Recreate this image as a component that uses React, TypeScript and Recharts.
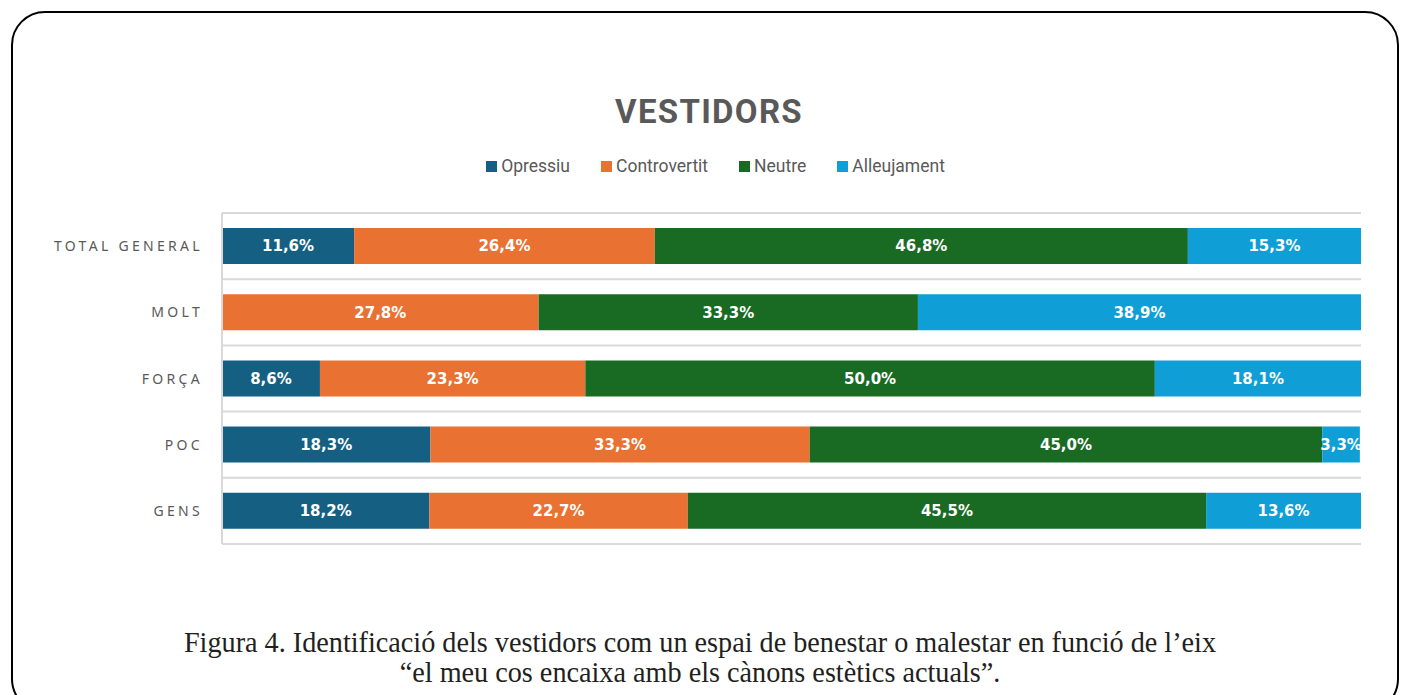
import { Bar, BarChart, CartesianGrid, LabelList, XAxis, YAxis } from "recharts";

const categories = ["TOTAL GENERAL", "MOLT", "FORÇA", "POC", "GENS"];
const opressiu = [11.6, 0.0, 8.6, 18.3, 18.2];
const controvertit = [26.4, 27.8, 23.3, 33.3, 22.7];
const neutre = [46.8, 33.3, 50.0, 45.0, 45.5];
const alleujament = [15.3, 38.9, 18.1, 3.3, 13.6];

const seriesInfo = [
  { key: "opressiu", name: "Opressiu", color: "#156082" },
  { key: "controvertit", name: "Controvertit", color: "#E97132" },
  { key: "neutre", name: "Neutre", color: "#196B24" },
  { key: "alleujament", name: "Alleujament", color: "#0F9ED5" },
];

const data = categories.map((cat, i) => ({
  cat,
  opressiu: opressiu[i],
  controvertit: controvertit[i],
  neutre: neutre[i],
  alleujament: alleujament[i],
}));

const fmt = (v: number) => v.toFixed(1).replace(".", ",") + "%";

function CategoryTick(props: any) {
  const { x, y, payload } = props;
  return (
    <text
      x={x}
      y={y}
      dy={5}
      textAnchor="end"
      fill="#595959"
      fontFamily="'Noto Sans', sans-serif"
      fontSize={14}
      letterSpacing={3.3}
    >
      {payload.value}
    </text>
  );
}

function LegendBox() {
  return (
    <div
      style={{
        position: "absolute",
        left: 0,
        top: 156,
        width: 1402,
        boxSizing: "border-box",
        display: "flex",
        justifyContent: "center",
        gap: 31,
        paddingLeft: 29,
        fontFamily: "Roboto, sans-serif",
        fontSize: 17.5,
        color: "#595959",
        lineHeight: "20px",
      }}
    >
      {seriesInfo.map((s) => (
        <div key={s.key} style={{ display: "flex", alignItems: "center" }}>
          <span
            style={{
              width: 11,
              height: 11,
              background: s.color,
              marginRight: 4,
              display: "inline-block",
            }}
          />
          <span>{s.name}</span>
        </div>
      ))}
    </div>
  );
}

export default function App() {
  return (
    <div
      style={{
        position: "absolute",
        left: 0,
        top: 0,
        width: 1402,
        height: 695,
        overflow: "hidden",
        background: "#fff",
      }}
    >
      <div
        style={{
          position: "absolute",
          left: 11,
          top: 11,
          width: 1388,
          height: 702,
          boxSizing: "border-box",
          border: "2.5px solid #000",
          borderRadius: 34,
        }}
      />
      <div
        style={{
          position: "absolute",
          left: 0,
          top: 95,
          width: 1402,
          textAlign: "center",
          paddingLeft: 16,
          boxSizing: "border-box",
          fontFamily: "Roboto, sans-serif",
          fontWeight: 700,
          fontSize: 33,
          lineHeight: "33px",
          letterSpacing: 1.3,
          color: "#595959",
        }}
      >
        VESTIDORS
      </div>
      <LegendBox />
      <div style={{ position: "absolute", left: 0, top: 0 }}>
        <BarChart
          width={1402}
          height={560}
          data={data}
          layout="vertical"
          margin={{ top: 213, right: 41, left: 0, bottom: 16 }}
          barSize={36}
        >
          <CartesianGrid
            vertical={false}
            stroke="#d9d9d9"
            strokeWidth={2}
            horizontalCoordinatesGenerator={({ offset }: any) =>
              categories
                .concat([""])
                .map((_, i) => offset.top + (i * offset.height) / categories.length)
            }
          />
          <XAxis type="number" domain={[0, 100]} allowDataOverflow hide />
          <YAxis
            type="category"
            dataKey="cat"
            width={222}
            tickLine={false}
            tickSize={0}
            tickMargin={19}
            axisLine={{ stroke: "#d9d9d9", strokeWidth: 2 }}
            tick={<CategoryTick />}
          />
          {seriesInfo.map((s) => (
            <Bar
              key={s.key}
              dataKey={s.key}
              name={s.name}
              stackId="a"
              fill={s.color}
              isAnimationActive={false}
            >
              <LabelList
                dataKey={s.key}
                position="center"
                formatter={(v: any) => fmt(Number(v))}
                fill="#fff"
                fontFamily="'DejaVu Sans', sans-serif"
                fontWeight={700}
                fontSize={15}
              />
            </Bar>
          ))}
        </BarChart>
      </div>
      <div
        style={{
          position: "absolute",
          left: 0,
          top: 627,
          width: 1400,
          textAlign: "center",
          fontFamily: "'Liberation Serif', serif",
          fontSize: 30,
          lineHeight: "30px",
          color: "#231f20",
          transform: "scaleX(0.94)",
          transformOrigin: "700px 0",
        }}
      >
        Figura 4. Identificació dels vestidors com un espai de benestar o malestar en funció de l’eix
        <br />
        “el meu cos encaixa amb els cànons estètics actuals”.
      </div>
    </div>
  );
}
